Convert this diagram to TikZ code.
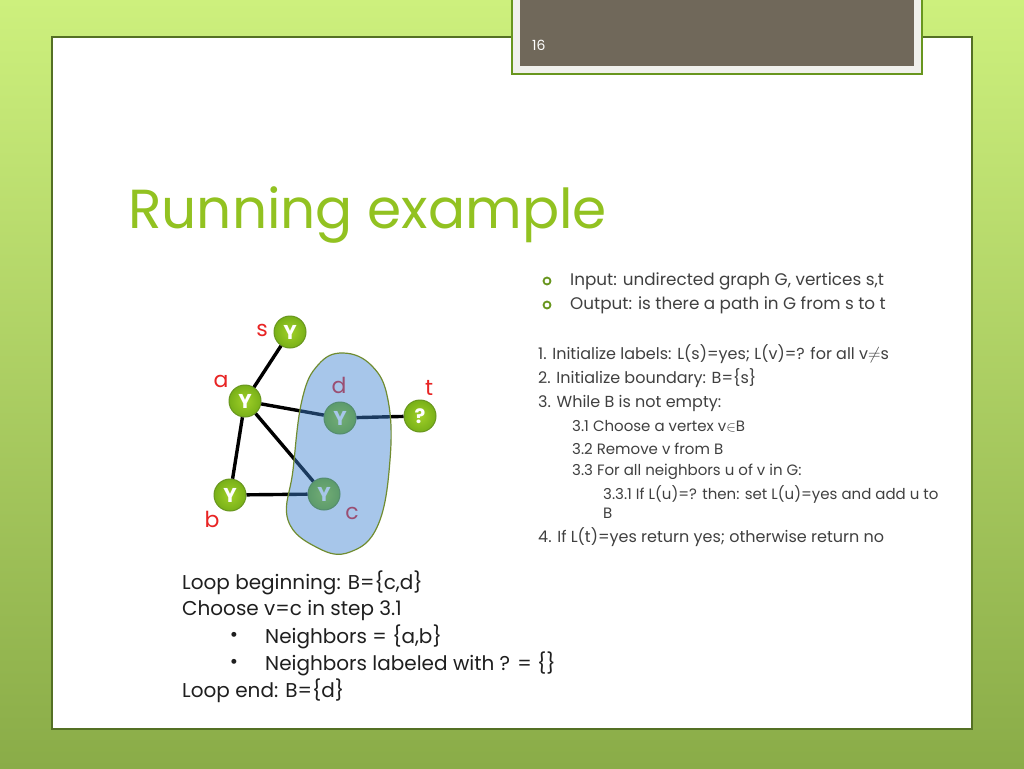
\documentclass[tikz,border=0pt]{standalone}
\usepackage{fontspec}
\setmainfont{Poppins}
\definecolor{bgtop}{RGB}{205,240,125}
\definecolor{bgbot}{RGB}{138,172,72}
\definecolor{titlegreen}{RGB}{146,194,33}
\definecolor{tabgrey}{RGB}{112,104,90}
\definecolor{tabrim}{RGB}{240,240,236}
\definecolor{panelrim}{RGB}{84,112,36}
\definecolor{nodein}{RGB}{160,208,40}
\definecolor{nodeout}{RGB}{120,176,24}
\definecolor{nodeedge}{RGB}{104,150,30}
\definecolor{blobblue}{RGB}{60,130,210}
\definecolor{blobrim}{RGB}{112,140,48}
\definecolor{txtgrey}{RGB}{64,64,64}
\definecolor{labred}{RGB}{232,36,36}
\newcommand{\fs}[1]{\fontsize{#1}{#1}\selectfont}
\begin{document}
\begin{tikzpicture}[x=1pt,y=-1pt,
    vtx/.style={circle,draw=nodeedge,line width=1pt,inner color=nodein,outer color=nodeout,
                minimum size=32pt,inner sep=0pt,text=white,font=\bfseries\fs{20}},
    vlab/.style={text=labred,font=\fs{22},inner sep=0pt},
    edge/.style={line width=3.4pt,black},
    btop/.style={anchor=west,text=txtgrey,font=\fs{16.8},inner sep=0pt},
    rtxt/.style={anchor=west,text=txtgrey,font=\fs{16},inner sep=0pt},
    rsub/.style={anchor=west,text=txtgrey,font=\fs{15},inner sep=0pt},
    btxt/.style={anchor=west,text=black!88,font=\fs{20},inner sep=0pt},
    dot/.style={draw=nodeedge,line width=1.8pt}]
\useasboundingbox (0,0) rectangle (1024,768);
% background and slide panel
\shade[top color=bgtop,bottom color=bgbot] (0,0) rectangle (1024,768);
\draw[panelrim,line width=1.2pt,fill=white] (52,37) rectangle (972,729);
\draw[nodeedge,line width=1.2pt,fill=tabrim] (512,-2) rectangle (922,74);
\fill[tabgrey] (520,-2) rectangle (914,66);
\node[anchor=west,text=white,font=\fs{14},inner sep=0pt] (num) at (532,45) {16};
% title
\node[anchor=base west,text=titlegreen,font=\fs{55},inner sep=0pt] (title) at (128,228) {Running example};
% bullets
\draw[dot] (547,281) circle (3.5);
\draw[dot] (547,305) circle (3.5);
\node[btop] (inp) at (570,281) {Input: undirected graph G, vertices s,t};
\node[btop] (outp) at (570,305) {Output: is there a path in G from s to t};
% algorithm
\node[rtxt] (st1) at (538,354) {1. Initialize labels: L(s)=yes; L(v)=? for all v$\neq$s};
\node[rtxt] (st2) at (538,378) {2. Initialize boundary: B=\{s\}};
\node[rtxt] (st3) at (538,403) {3. While B is not empty:};
\node[rsub] (st31) at (572,426) {3.1 Choose a vertex v$\in$B};
\node[rsub] (st32) at (572,449) {3.2 Remove v from B};
\node[rsub] (st33) at (572,472) {3.3 For all neighbors u of v in G:};
\node[rsub] (st331) at (603,494) {3.3.1 If L(u)=? then: set L(u)=yes and add u to};
\node[rsub] (st331b) at (603,513) {B};
\node[rtxt] (st4) at (538,537) {4. If L(t)=yes return yes; otherwise return no};
% graph
\node[vtx] (s) at (290,332) {Y};
\node[vtx] (a) at (245,401) {Y};
\node[vtx] (d) at (340,418) {Y};
\node[vtx] (t) at (420,416) {?};
\node[vtx] (b) at (230,495) {Y};
\node[vtx] (c) at (324,494) {Y};
\draw[edge] (s) -- (a);
\draw[edge] (a) -- (b);
\draw[edge] (a) -- (d);
\draw[edge] (a) -- (c);
\draw[edge] (b) -- (c);
\draw[edge] (d) -- (t);
\node[vlab] (ls) at (262,330) {s};
\node[vlab] (la) at (221,381) {a};
\node[vlab] (ld) at (339,385) {d};
\node[vlab] (lt) at (429,388) {t};
\node[vlab] (lb) at (212,519) {b};
\node[vlab] (lc) at (352,513) {c};
% boundary set B
\draw[blobrim,line width=1.2pt,fill=blobblue,fill opacity=0.45]
  plot[smooth cycle,tension=0.7] coordinates {(343,353) (372,366) (388,400) (390,460)
  (378,525) (350,552) (318,548) (288,520) (293,470) (302,400) (318,365)};
% loop trace
\node[btxt] (lbeg) at (182,583) {Loop beginning: B=\{c,d\}};
\node[btxt] (lch) at (182,610) {Choose v=c in step 3.1};
\node[btxt] (nb1) at (265,637) {Neighbors = \{a,b\}};
\node[btxt] (nb2) at (265,664) {Neighbors labeled with ? = \{\}};
\node[btxt] (lend) at (182,691) {Loop end: B=\{d\}};
\node[btxt,anchor=center] (dt1) at (234,637) {•};
\node[btxt,anchor=center] (dt2) at (234,664) {•};
\end{tikzpicture}
\end{document}
